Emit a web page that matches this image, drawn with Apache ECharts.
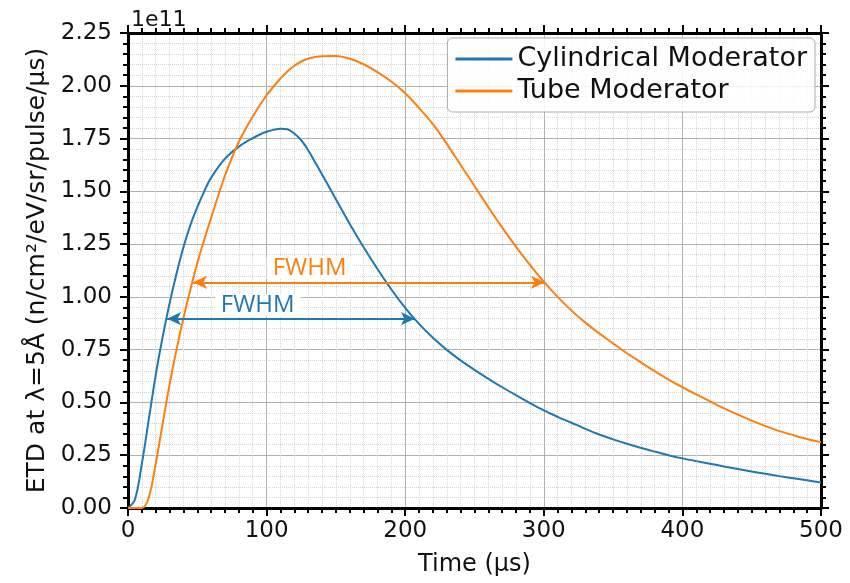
<!DOCTYPE html>
<html>
<head>
<meta charset="utf-8">
<script src="https://cdn.jsdelivr.net/npm/echarts@6/dist/echarts.min.js"></script>
<style>
  html, body { margin: 0; padding: 0; background: #fff; }
  #main { width: 850px; height: 583px; }
</style>
</head>
<body>
<div id="main"></div>
<script>
// time (us) and ETD values in units of 1e11
var times = [0, 5, 10, 15, 20, 25, 30, 35, 40, 45, 50, 55, 60, 70, 80, 90, 100, 110, 115, 120, 125, 130, 135, 140, 150, 160, 170, 180, 190, 200, 210, 220, 230, 240, 250, 260, 270, 280, 290, 300, 310, 320, 330, 340, 350, 360, 370, 380, 390, 400, 410, 420, 430, 440, 450, 460, 470, 480, 490, 500];
var cylValues = [0, 0.04, 0.21, 0.42, 0.63, 0.81, 0.97, 1.11, 1.235, 1.34, 1.425, 1.50, 1.565, 1.655, 1.712, 1.752, 1.782, 1.797, 1.794, 1.774, 1.742, 1.695, 1.638, 1.58, 1.463, 1.345, 1.235, 1.132, 1.035, 0.948, 0.872, 0.806, 0.749, 0.699, 0.654, 0.612, 0.572, 0.534, 0.497, 0.462, 0.432, 0.404, 0.375, 0.348, 0.325, 0.304, 0.285, 0.267, 0.25, 0.235, 0.222, 0.21, 0.197, 0.185, 0.173, 0.162, 0.151, 0.141, 0.131, 0.121];
var tubeValues = [0, 0, 0, 0.05, 0.21, 0.40, 0.585, 0.75, 0.90, 1.035, 1.16, 1.27, 1.375, 1.575, 1.735, 1.855, 1.955, 2.035, 2.068, 2.095, 2.115, 2.128, 2.136, 2.14, 2.141, 2.128, 2.102, 2.065, 2.02, 1.965, 1.895, 1.818, 1.725, 1.625, 1.525, 1.425, 1.328, 1.237, 1.152, 1.072, 1.0, 0.935, 0.878, 0.827, 0.78, 0.733, 0.69, 0.648, 0.608, 0.572, 0.538, 0.505, 0.472, 0.442, 0.414, 0.388, 0.364, 0.345, 0.327, 0.312];
var seriesNames = ['Cylindrical Moderator', 'Tube Moderator'];
var colors = ['#1f77b4', '#ff7f0e'];
// FWHM arrows: [start time, end time, level]
var fwhmCyl = [28.2, 207, 0.897];
var fwhmTube = [46.9, 300.9, 1.069];
// FWHM text anchors: [time, value]
var fwhmCylText = [93.6, 0.96];
var fwhmTubeText = [131, 1.137];

function pairs(xs, ys) {
  var out = [];
  for (var i = 0; i < xs.length; i++) out.push([xs[i], ys[i]]);
  return out;
}

var FONT = 'DejaVu Sans';
var axisCommon = {
  type: 'value',
  axisLine: { show: true, onZero: false, lineStyle: { color: '#000', width: 3 } },
  axisTick: { show: true, length: 8, lineStyle: { color: '#000', width: 2 } },
  minorTick: { show: true, length: 5, lineStyle: { color: '#000', width: 2 } }
};

function mkX(pos, main) {
  return Object.assign({}, axisCommon, {
    position: pos, min: 0, max: 500, interval: 100,
    minorTick: Object.assign({}, axisCommon.minorTick, { splitNumber: 10 }),
    axisLabel: { show: main, fontFamily: FONT, fontSize: 23, color: '#111', margin: 12 },
    splitLine: { show: main, lineStyle: { color: '#b0b0b0', width: 1 } },
    minorSplitLine: { show: main, lineStyle: { color: '#d6d6d6', width: 1, type: 'dotted' } },
    name: main ? 'Time (μs)' : '',
    nameLocation: 'middle', nameGap: 45,
    nameTextStyle: { fontFamily: FONT, fontSize: 24, color: '#111' }
  });
}
function mkY(pos, main) {
  return Object.assign({}, axisCommon, {
    position: pos, min: 0, max: 2.25, interval: 0.25,
    minorTick: Object.assign({}, axisCommon.minorTick, { splitNumber: 5 }),
    axisLabel: { show: main, fontFamily: FONT, fontSize: 23, color: '#111', margin: 16,
      formatter: function (v) { return v.toFixed(2); } },
    splitLine: { show: main, lineStyle: { color: '#b0b0b0', width: 1 } },
    minorSplitLine: { show: main, lineStyle: { color: '#d6d6d6', width: 1, type: 'dotted' } },
    name: main ? 'ETD at λ=5Å (n/cm²/eV/sr/pulse/μs)' : '',
    nameLocation: 'middle', nameGap: 76,
    nameTextStyle: { fontFamily: FONT, fontSize: 25, color: '#111' }
  });
}

function fwhmMark(arrow, txt, color) {
  return {
    markLine: {
      silent: true, animation: false,
      symbol: ['arrow', 'arrow'], symbolSize: [10, 14],
      lineStyle: { color: color, width: 2, type: 'solid' },
      label: { show: false },
      data: [[{ coord: [arrow[0], arrow[2]] }, { coord: [arrow[1], arrow[2]] }]]
    },
    markPoint: {
      silent: true, animation: false,
      symbol: 'rect', symbolSize: [86, 22],
      itemStyle: { color: '#fff' },
      label: { show: true, position: 'inside', formatter: 'FWHM', color: color,
        fontFamily: 'Open Sans', fontSize: 24 },
      data: [{ coord: txt }]
    }
  };
}

var chart = echarts.init(document.getElementById('main'));
var option = {
  backgroundColor: '#fff',
  animation: false,
  grid: { left: 128, right: 29, top: 33, bottom: 75, containLabel: false },
  title: {
    text: '1e11', left: 126, top: 4,
    textStyle: { fontFamily: FONT, fontSize: 22, fontWeight: 'normal', color: '#111' }
  },
  legend: {
    orient: 'vertical', right: 35, top: 38,
    data: seriesNames,
    icon: 'rect',
    itemWidth: 57, itemHeight: 3, itemGap: 2,
    padding: [6, 8, 6, 8],
    backgroundColor: 'rgba(255,255,255,0.85)',
    borderColor: '#aaa', borderWidth: 1, borderRadius: 5,
    textStyle: { fontFamily: FONT, fontSize: 27, color: '#111', lineHeight: 30 }
  },
  xAxis: [mkX('bottom', true), mkX('top', false)],
  yAxis: [mkY('left', true), mkY('right', false)],
  series: [
    Object.assign({
      name: seriesNames[0], type: 'line', symbol: 'none',
      smooth: 0.35,
      lineStyle: { color: colors[0], width: 2 }, itemStyle: { color: colors[0] },
      data: pairs(times, cylValues), z: 3
    }, fwhmMark(fwhmCyl, fwhmCylText, colors[0])),
    Object.assign({
      name: seriesNames[1], type: 'line', symbol: 'none',
      smooth: 0.35,
      lineStyle: { color: colors[1], width: 2 }, itemStyle: { color: colors[1] },
      data: pairs(times, tubeValues), z: 3
    }, fwhmMark(fwhmTube, fwhmTubeText, colors[1]))
  ]
};
chart.setOption(option);
</script>
</body>
</html>
